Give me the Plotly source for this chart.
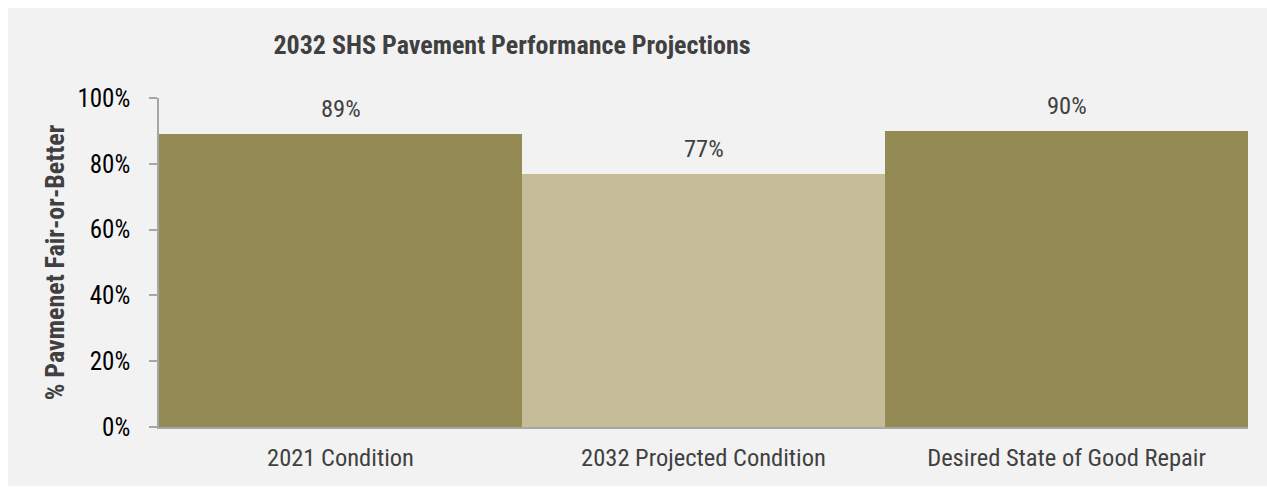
import plotly.graph_objects as go

# Chart data
categories = ["2021 Condition", "2032 Projected Condition", "Desired State of Good Repair"]
pct_fair_or_better = [89, 77, 90]
bar_colors = ["#948a54", "#c4bd97", "#948a54"]
y_ticks = [0, 20, 40, 60, 80, 100]
y_tick_labels = [f"{v}%" for v in y_ticks]

FONT = "Roboto Condensed, Liberation Sans, Arial, sans-serif"

W, H = 1267, 487
m_l, m_r, m_t, m_b = 159, 19, 98, 60
plot_w = W - m_l - m_r
plot_h = H - m_t - m_b

fig = go.Figure()
fig.add_trace(go.Bar(
    x=categories,
    y=pct_fair_or_better,
    marker=dict(color=bar_colors, line=dict(width=0)),
    hoverinfo="skip",
))

# value labels above each bar
for cat, val in zip(categories, pct_fair_or_better):
    fig.add_annotation(
        x=cat, y=val, text=f"{val}%", showarrow=False,
        xref="x", yref="y", yanchor="bottom", yshift=9,
        font=dict(family=FONT, size=24.5, color="#404040"),
    )

# light grey panel behind the whole chart
fig.add_shape(
    type="rect", xref="paper", yref="paper", layer="below",
    x0=(8 - m_l) / plot_w, x1=(W - m_l) / plot_w,
    y0=(m_t + plot_h - (H - 1)) / plot_h, y1=(m_t + plot_h - 8) / plot_h,
    fillcolor="#f2f2f2", line=dict(width=0),
)

fig.update_layout(
    width=W, height=H,
    margin=dict(l=m_l, r=m_r, t=m_t, b=m_b),
    paper_bgcolor="white",
    plot_bgcolor="rgba(0,0,0,0)",
    bargap=0,
    showlegend=False,
    title=dict(
        text="<b>2032 SHS Pavement Performance Projections</b>",
        x=512 / W, xanchor="center", y=1 - 45 / H, yanchor="middle",
        font=dict(family=FONT, size=26, color="#404040"),
    ),
    xaxis=dict(
        showline=True, linecolor="#a6a6a6", linewidth=1.5,
        ticks="", showgrid=False,
        tickfont=dict(family=FONT, size=24.5, color="#404040"),
        ticklabelstandoff=8,
    ),
    yaxis=dict(
        range=[0, 100], tickvals=y_ticks, ticktext=y_tick_labels,
        showline=True, linecolor="#a6a6a6", linewidth=1.5,
        ticks="outside", ticklen=8, tickcolor="#a6a6a6", tickwidth=1.5,
        showgrid=False, zeroline=False,
        tickfont=dict(family=FONT, size=25, color="#000000"),
        ticklabelstandoff=14,
        title=dict(
            text="<b>% Pavmenet Fair-or-Better</b>",
            font=dict(family=FONT, size=26, color="#404040"),
            standoff=5,
        ),
    ),
)

fig.write_html("out.html")
